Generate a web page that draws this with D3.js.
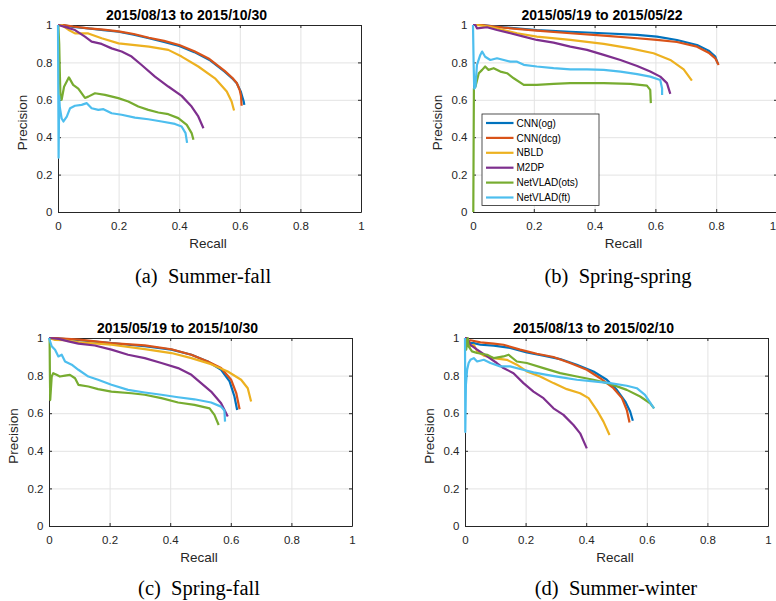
<!DOCTYPE html>
<html>
<head>
<meta charset="utf-8">
<script src="https://cdn.jsdelivr.net/npm/d3@7/dist/d3.min.js"></script>
<style>
  html, body { margin: 0; padding: 0; background: #fff; }
  svg { display: block; }
</style>
</head>
<body>
<svg id="chart" width="776" height="601"></svg>
<script>
// ---------------- DATA ----------------
const seriesNames = ["CNN(og)", "CNN(dcg)", "NBLD", "M2DP", "NetVLAD(ots)", "NetVLAD(ft)"];
const seriesColors = ["#0072BD", "#D95319", "#EDB120", "#7E2F8E", "#77AC30", "#4DBEEE"];
const axisTicks = [0, 0.2, 0.4, 0.6, 0.8, 1];
const tickLabels = ["0", "0.2", "0.4", "0.6", "0.8", "1"];
const panelTitles = ["2015/08/13 to 2015/10/30", "2015/05/19 to 2015/05/22", "2015/05/19 to 2015/10/30", "2015/08/13 to 2015/02/10"];
const panelCaptions = ["(a)\u00a0\u00a0Summer-fall", "(b)\u00a0\u00a0Spring-spring", "(c)\u00a0\u00a0Spring-fall", "(d)\u00a0\u00a0Summer-winter"];

// (a) Summer-fall  [recall, precision]
const a_cnnOg = [[0,1],[0.012,1],[0.05,0.99],[0.1,0.982],[0.15,0.973],[0.2,0.964],[0.25,0.948],[0.3,0.929],[0.35,0.91],[0.4,0.888],[0.45,0.855],[0.5,0.813],[0.55,0.75],[0.575,0.715],[0.59,0.689],[0.603,0.645],[0.608,0.617],[0.613,0.59],[0.615,0.573]];
const a_cnnDcg = [[0,1],[0.02,1],[0.05,0.992],[0.1,0.982],[0.15,0.975],[0.2,0.966],[0.25,0.952],[0.3,0.932],[0.35,0.915],[0.4,0.893],[0.45,0.86],[0.5,0.818],[0.55,0.755],[0.575,0.718],[0.59,0.69],[0.6,0.65],[0.604,0.62],[0.606,0.568]];
const a_nbld = [[0,1],[0.012,1],[0.034,0.975],[0.056,0.955],[0.1,0.955],[0.144,0.929],[0.2,0.902],[0.3,0.884],[0.364,0.867],[0.408,0.831],[0.463,0.778],[0.518,0.715],[0.557,0.644],[0.573,0.591],[0.581,0.543]];
const a_m2dp = [[0,1],[0.023,0.99],[0.056,0.973],[0.089,0.938],[0.111,0.911],[0.144,0.899],[0.177,0.875],[0.21,0.858],[0.243,0.831],[0.276,0.786],[0.32,0.724],[0.364,0.671],[0.408,0.621],[0.441,0.564],[0.463,0.511],[0.48,0.448]];
const a_netOts = [[0.001,1],[0.004,0.9],[0.006,0.75],[0.008,0.62],[0.012,0.6],[0.02,0.67],[0.036,0.72],[0.05,0.68],[0.067,0.66],[0.089,0.61],[0.1,0.617],[0.122,0.635],[0.155,0.626],[0.199,0.609],[0.232,0.591],[0.265,0.564],[0.298,0.546],[0.331,0.532],[0.364,0.523],[0.397,0.502],[0.425,0.466],[0.441,0.422],[0.447,0.386]];
const a_netFt = [[0,1],[0.002,0.29],[0.004,0.62],[0.006,0.56],[0.012,0.5],[0.018,0.484],[0.029,0.51],[0.04,0.555],[0.056,0.568],[0.078,0.573],[0.095,0.582],[0.111,0.555],[0.133,0.546],[0.15,0.55],[0.177,0.528],[0.21,0.52],[0.254,0.505],[0.298,0.496],[0.342,0.484],[0.386,0.471],[0.408,0.457],[0.421,0.422],[0.426,0.37]];

// (b) Spring-spring
const b_cnnOg = [[0,1],[0.03,1],[0.1,0.988],[0.21,0.973],[0.32,0.964],[0.43,0.956],[0.54,0.947],[0.605,0.938],[0.671,0.92],[0.737,0.893],[0.775,0.863],[0.797,0.831],[0.805,0.795]];
const b_cnnDcg = [[0,1],[0.03,1],[0.1,0.986],[0.21,0.97],[0.32,0.956],[0.43,0.943],[0.54,0.929],[0.605,0.92],[0.671,0.909],[0.737,0.884],[0.775,0.852],[0.797,0.822],[0.808,0.786]];
const b_nbld = [[0,1],[0.013,1],[0.057,0.99],[0.1,0.973],[0.145,0.956],[0.21,0.938],[0.32,0.92],[0.43,0.899],[0.518,0.875],[0.594,0.849],[0.649,0.813],[0.693,0.763],[0.72,0.703]];
const b_m2dp = [[0,1],[0.008,1],[0.013,0.982],[0.046,0.988],[0.079,0.973],[0.123,0.956],[0.167,0.938],[0.21,0.92],[0.265,0.906],[0.32,0.884],[0.375,0.867],[0.43,0.84],[0.485,0.813],[0.54,0.781],[0.583,0.751],[0.616,0.724],[0.638,0.689],[0.649,0.632]];
const b_netOts = [[0.001,0],[0.002,0.35],[0.003,0.66],[0.008,0.67],[0.019,0.742],[0.03,0.76],[0.04,0.778],[0.051,0.76],[0.068,0.769],[0.09,0.751],[0.112,0.742],[0.134,0.715],[0.167,0.68],[0.21,0.68],[0.265,0.685],[0.32,0.689],[0.43,0.689],[0.518,0.685],[0.572,0.676],[0.583,0.653],[0.585,0.582]];
const b_netFt = [[0,1],[0.002,0.8],[0.004,0.66],[0.008,0.67],[0.013,0.787],[0.024,0.84],[0.03,0.858],[0.04,0.83],[0.057,0.813],[0.079,0.822],[0.123,0.804],[0.145,0.804],[0.167,0.787],[0.21,0.778],[0.265,0.769],[0.32,0.763],[0.375,0.763],[0.43,0.76],[0.485,0.751],[0.54,0.737],[0.583,0.724],[0.616,0.706],[0.622,0.66],[0.622,0.626]];

// (c) Spring-fall
const c_cnnOg = [[0,1],[0.02,1],[0.1,0.988],[0.206,0.973],[0.316,0.956],[0.404,0.938],[0.47,0.911],[0.524,0.875],[0.568,0.831],[0.596,0.769],[0.612,0.689],[0.621,0.617]];
const c_cnnDcg = [[0,1],[0.02,1],[0.1,0.991],[0.206,0.973],[0.316,0.961],[0.404,0.94],[0.47,0.911],[0.524,0.875],[0.568,0.84],[0.601,0.778],[0.618,0.707],[0.629,0.621]];
const c_nbld = [[0,1],[0.02,0.99],[0.053,0.988],[0.1,0.977],[0.206,0.964],[0.316,0.941],[0.404,0.92],[0.47,0.893],[0.535,0.861],[0.59,0.822],[0.634,0.778],[0.656,0.733],[0.667,0.662]];
const c_m2dp = [[0,1],[0.003,1],[0.031,0.995],[0.064,0.982],[0.097,0.97],[0.151,0.96],[0.206,0.938],[0.261,0.911],[0.316,0.893],[0.371,0.867],[0.426,0.84],[0.47,0.804],[0.502,0.76],[0.535,0.715],[0.568,0.653],[0.59,0.582]];
const c_netOts = [[0.002,1],[0.003,0.8],[0.004,0.67],[0.009,0.795],[0.014,0.813],[0.025,0.804],[0.036,0.795],[0.053,0.8],[0.069,0.804],[0.086,0.786],[0.097,0.751],[0.13,0.742],[0.162,0.728],[0.206,0.715],[0.272,0.706],[0.316,0.698],[0.371,0.68],[0.426,0.657],[0.48,0.644],[0.53,0.626],[0.546,0.591],[0.56,0.537]];
const c_netFt = [[0,1],[0.009,0.956],[0.02,0.938],[0.031,0.902],[0.042,0.911],[0.053,0.875],[0.075,0.858],[0.097,0.831],[0.13,0.795],[0.162,0.778],[0.206,0.751],[0.261,0.724],[0.316,0.71],[0.371,0.698],[0.426,0.685],[0.48,0.674],[0.535,0.657],[0.568,0.635],[0.579,0.614],[0.581,0.555]];

// (d) Summer-winter
const d_cnnOg = [[0,1],[0.007,0.973],[0.029,0.973],[0.051,0.964],[0.095,0.959],[0.149,0.947],[0.204,0.923],[0.259,0.906],[0.314,0.888],[0.369,0.858],[0.424,0.822],[0.468,0.778],[0.501,0.724],[0.529,0.662],[0.545,0.609],[0.554,0.56]];
const d_cnnDcg = [[0,1],[0.007,0.977],[0.018,0.988],[0.051,0.977],[0.095,0.97],[0.127,0.964],[0.182,0.938],[0.237,0.916],[0.292,0.899],[0.347,0.867],[0.402,0.831],[0.446,0.786],[0.49,0.733],[0.518,0.68],[0.534,0.617],[0.543,0.55]];
const d_nbld = [[0,1],[0.007,1],[0.018,0.956],[0.029,0.964],[0.04,0.929],[0.062,0.906],[0.095,0.893],[0.138,0.884],[0.171,0.858],[0.204,0.822],[0.248,0.795],[0.292,0.76],[0.336,0.728],[0.38,0.706],[0.408,0.68],[0.435,0.617],[0.457,0.555],[0.477,0.484]];
const d_m2dp = [[0,1],[0.007,1],[0.018,0.964],[0.04,0.938],[0.073,0.902],[0.105,0.867],[0.127,0.84],[0.16,0.813],[0.193,0.76],[0.226,0.715],[0.259,0.68],[0.292,0.626],[0.325,0.591],[0.358,0.537],[0.38,0.493],[0.402,0.413]];
const d_netOts = [[0,1],[0.004,0.938],[0.009,1],[0.012,0.956],[0.023,0.929],[0.04,0.92],[0.073,0.911],[0.095,0.893],[0.127,0.902],[0.144,0.911],[0.171,0.875],[0.204,0.867],[0.259,0.84],[0.314,0.813],[0.369,0.795],[0.424,0.778],[0.479,0.756],[0.534,0.724],[0.578,0.689],[0.611,0.653],[0.624,0.626]];
const d_netFt = [[0,1],[0.001,0.5],[0.003,0.75],[0.007,0.831],[0.012,0.867],[0.018,0.884],[0.029,0.893],[0.04,0.875],[0.062,0.884],[0.084,0.867],[0.116,0.849],[0.149,0.849],[0.182,0.835],[0.226,0.817],[0.27,0.804],[0.314,0.792],[0.369,0.778],[0.424,0.769],[0.479,0.76],[0.534,0.746],[0.567,0.733],[0.594,0.698],[0.616,0.644],[0.624,0.626]];

const panelSeries = [
  [a_cnnOg, a_cnnDcg, a_nbld, a_m2dp, a_netOts, a_netFt],
  [b_cnnOg, b_cnnDcg, b_nbld, b_m2dp, b_netOts, b_netFt],
  [c_cnnOg, c_cnnDcg, c_nbld, c_m2dp, c_netOts, c_netFt],
  [d_cnnOg, d_cnnDcg, d_nbld, d_m2dp, d_netOts, d_netFt]
];

// ---------------- LAYOUT ----------------
const layout = [
  { x0: 58,  x1: 361, y0: 25,  y1: 212, capX: 203, capY: 283 },
  { x0: 473, x1: 777, y0: 25,  y1: 212, capX: 618, capY: 283 },
  { x0: 49,  x1: 352, y0: 338, y1: 526, capX: 199, capY: 595 },
  { x0: 465, x1: 768, y0: 338, y1: 526, capX: 616, capY: 595 }
];

const svg = d3.select("#chart");
const sans = "'Liberation Sans', Arial, Helvetica, sans-serif";
const axisColor = "#262626";

layout.forEach((L, i) => {
  const w = L.x1 - L.x0, h = L.y1 - L.y0;
  const x = d3.scaleLinear().domain([0, 1]).range([0, w]);
  const y = d3.scaleLinear().domain([0, 1]).range([h, 0]);
  const g = svg.append("g").attr("transform", `translate(${L.x0},${L.y0})`);

  // grid
  g.append("g").attr("class", "gridx")
    .attr("transform", `translate(0,${h})`)
    .call(d3.axisBottom(x).tickValues(axisTicks).tickSize(-h).tickFormat(""))
    .call(s => s.select(".domain").remove())
    .selectAll("line").attr("stroke", "#e3e3e3").attr("stroke-width", 1);
  g.append("g").attr("class", "gridy")
    .call(d3.axisLeft(y).tickValues(axisTicks).tickSize(-w).tickFormat(""))
    .call(s => s.select(".domain").remove())
    .selectAll("line").attr("stroke", "#e3e3e3").attr("stroke-width", 1);

  // axes (inward ticks)
  const fmt = (d) => tickLabels[axisTicks.indexOf(d)];
  const xa = g.append("g").attr("transform", `translate(0,${h})`)
    .call(d3.axisBottom(x).tickValues(axisTicks).tickSize(-3).tickSizeOuter(0).tickPadding(9.5).tickFormat(fmt));
  const ya = g.append("g")
    .call(d3.axisLeft(y).tickValues(axisTicks).tickSize(-3).tickSizeOuter(0).tickPadding(5.5).tickFormat(fmt));
  g.append("g").call(d3.axisTop(x).tickValues(axisTicks).tickSize(-3).tickSizeOuter(0).tickFormat(""));
  g.append("g").attr("transform", `translate(${w},0)`)
    .call(d3.axisRight(y).tickValues(axisTicks).tickSize(-3).tickSizeOuter(0).tickFormat(""));
  g.selectAll(".domain").attr("stroke", axisColor).attr("stroke-width", 1);
  g.selectAll(".tick line").filter(function () { return !this.closest(".gridx") && !this.closest(".gridy"); })
    .attr("stroke", axisColor);
  [xa, ya].forEach(a => a.selectAll("text")
    .attr("font-family", sans).attr("font-size", "11.5px").attr("fill", axisColor));
  // keep the last x label inside the page edge
  if (L.x1 > 770) {
    xa.selectAll(".tick text").filter(d => d === 1).attr("dx", -4.5);
  }

  // axis labels
  g.append("text").attr("x", w / 2 - 1.5).attr("y", h + 36)
    .attr("text-anchor", "middle").attr("font-family", sans).attr("font-size", "13.5px")
    .attr("fill", axisColor).text("Recall");
  g.append("text").attr("transform", `translate(-31,${h / 2 + 4}) rotate(-90)`)
    .attr("text-anchor", "middle").attr("font-family", sans).attr("font-size", "13.5px")
    .attr("fill", axisColor).text("Precision");

  // title
  g.append("text").attr("x", w / 2 - 23).attr("y", -5.5)
    .attr("text-anchor", "middle").attr("font-family", sans).attr("font-weight", "bold")
    .attr("font-size", "14px").attr("fill", "#000").text(panelTitles[i]);

  // curves
  const line = d3.line().x(d => x(d[0])).y(d => y(d[1]));
  panelSeries[i].forEach((data, k) => {
    g.append("path").datum(data)
      .attr("d", line)
      .attr("fill", "none")
      .attr("stroke", seriesColors[k])
      .attr("stroke-width", 2.2)
      .attr("stroke-linejoin", "round")
      .attr("stroke-linecap", "butt");
  });

  // caption
  svg.append("text").attr("x", L.capX).attr("y", L.capY)
    .attr("text-anchor", "middle")
    .attr("font-family", "'Liberation Serif', 'Times New Roman', serif")
    .attr("font-size", "20.5px").attr("fill", "#000").text(panelCaptions[i]);

  // legend in panel (b)
  if (i === 1) {
    const lg = svg.append("g").attr("transform", "translate(482,114)");
    lg.append("rect").attr("x", 0).attr("y", 0).attr("width", 117).attr("height", 91.5)
      .attr("fill", "#fff").attr("stroke", axisColor).attr("stroke-width", 0.8);
    seriesNames.forEach((name, k) => {
      const yy = 9 + k * 14.9;
      lg.append("line").attr("x1", 4).attr("x2", 31.5).attr("y1", yy).attr("y2", yy)
        .attr("stroke", seriesColors[k]).attr("stroke-width", 2.2);
      lg.append("text").attr("x", 34.5).attr("y", yy + 3.6)
        .attr("font-family", sans).attr("font-size", "10px").attr("fill", "#000").text(name);
    });
  }
});
</script>
</body>
</html>
